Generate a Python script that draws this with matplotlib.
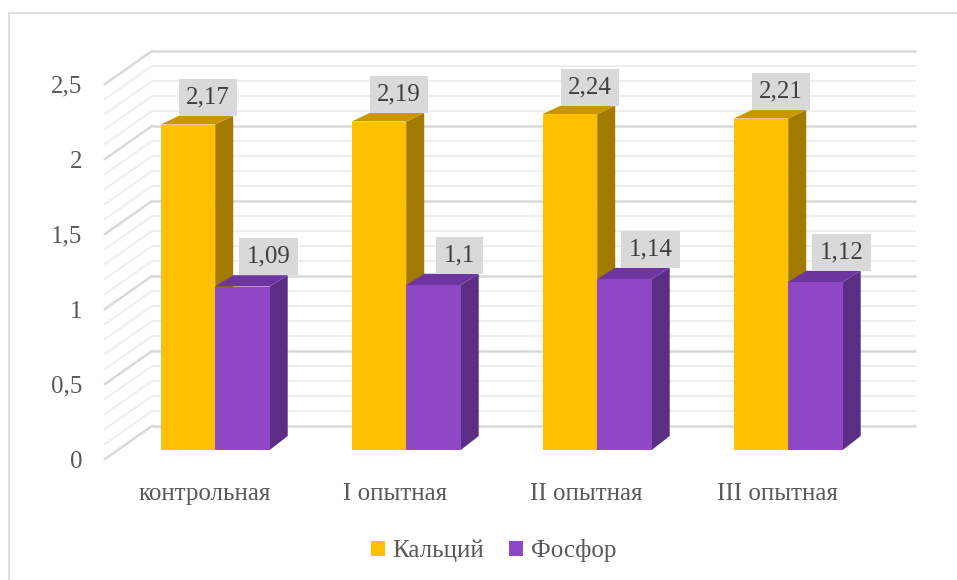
import matplotlib
matplotlib.use("Agg")
import matplotlib.pyplot as plt
from matplotlib.patches import Polygon, Rectangle

plt.rcParams['font.family'] = ['Liberation Serif', 'DejaVu Serif']

categories = ["контрольная", "I опытная", "II опытная", "III опытная"]
series_names = ["Кальций", "Фосфор"]
calcium = [2.17, 2.19, 2.24, 2.21]
phosphorus = [1.09, 1.10, 1.14, 1.12]
value_labels = [["2,17", "2,19", "2,24", "2,21"], ["1,09", "1,1", "1,14", "1,12"]]
y_ticks = [0, 0.5, 1, 1.5, 2, 2.5]
y_tick_labels = ["0", "0,5", "1", "1,5", "2", "2,5"]

front_colors = ["#FFC000", "#8E48C6"]
top_colors = ["#C99600", "#6E35A0"]
side_colors = ["#A27A00", "#5B2D84"]

W_PX, H_PX = 957, 580
fig = plt.figure(figsize=(W_PX / 100, H_PX / 100), dpi=100)
fig.patch.set_facecolor("white")

# chart border (right and bottom edges fall outside the picture)
fig.add_artist(Rectangle((9 / W_PX, -0.5), 2.0, 1.5 - 13 / H_PX, transform=fig.transFigure,
                         fill=False, ec="#d9d9d9", lw=1.2))

ax_left, ax_right, ax_bottom_px, ax_top_px = 105, 869, 459, 84
ax = fig.add_axes([ax_left / W_PX, (H_PX - ax_bottom_px) / H_PX,
                   (ax_right - ax_left) / W_PX, (ax_bottom_px - ax_top_px) / H_PX])
ax.set_xlim(-0.5, 3.5)
ax.set_ylim(0, 2.5)
ax.patch.set_alpha(0)
for s in ax.spines.values():
    s.set_visible(False)

PXX = (ax_right - ax_left) / 4.0   # pixels per x unit
PXY = (ax_bottom_px - ax_top_px) / 2.5  # pixels per value unit

# wall depth
DXW = 47 / PXX
DYW = 33 / PXY

for k in range(26):
    v = k / 10
    major = (k % 5 == 0)
    col = "#d9d9d9" if major else "#eeeeee"
    lw = 1.8 if major else 1.4
    ax.plot([-0.5 + DXW, 3.5 + DXW], [v + DYW, v + DYW], color=col, lw=lw,
            clip_on=False, zorder=1, solid_capstyle="butt")
    ax.plot([-0.5, -0.5 + DXW], [v, v + DYW], color=col, lw=lw,
            clip_on=False, zorder=1)

# bars
BW = 54.5 / PXX
GROUP_OFF = 0.077
B0 = 9 / PXY
SDX = 18 / PXX
series = [calcium, phosphorus]

for i in range(len(categories)):
    for s, vals in enumerate(series):
        val = vals[i]
        xl = i + GROUP_OFF + (s - 1) * BW
        xr = xl + BW
        top = B0 + val
        sdy_top = (14 - 2.5 * val) / PXY
        sdy_bot = 14 / PXY
        z = 3 + s
        # side
        ax.add_patch(Polygon([(xr, B0), (xr + SDX, B0 + sdy_bot), (xr + SDX, top + sdy_top), (xr, top)],
                             closed=True, fc=side_colors[s], ec="none", clip_on=False, zorder=z))
        # top
        ax.add_patch(Polygon([(xl, top), (xr, top), (xr + SDX, top + sdy_top), (xl + SDX, top + sdy_top)],
                             closed=True, fc=top_colors[s], ec="none", clip_on=False, zorder=z))
        # front
        ax.add_patch(Rectangle((xl, B0), BW, val, fc=front_colors[s], ec="none",
                               clip_on=False, zorder=z + 0.1))
        # label
        ax.annotate(value_labels[s][i], xy=(xl + BW / 2 + (20 + 6 * s) / PXX, top + sdy_top),
                    xytext=(0, 7.5), textcoords="offset pixels", ha="center", va="bottom",
                    fontsize=18, color="#404040", zorder=10, annotation_clip=False,
                    bbox=dict(boxstyle="square,pad=0.3", fc="#d9d9d9", ec="none"))

ax.set_yticks(y_ticks)
ax.set_yticklabels(y_tick_labels, fontsize=18, color="#595959")
ax.set_xticks([i + 0.02 for i in range(len(categories))])
ax.set_xticklabels(categories, fontsize=18, color="#595959")
ax.tick_params(axis="y", length=0, pad=16.5)
ax.tick_params(axis="x", length=0, pad=17)

handles = [Rectangle((0, 0), 1, 1, fc=c, ec="none") for c in front_colors]
fig.legend(handles, series_names, loc="center", bbox_to_anchor=(493.5 / W_PX, 1 - 551 / H_PX),
           ncol=2, frameon=False, fontsize=18, labelcolor="#595959",
           handlelength=0.56, handleheight=0.56, handletextpad=0.3, columnspacing=1.0)

fig.savefig("out.png", dpi=100)
